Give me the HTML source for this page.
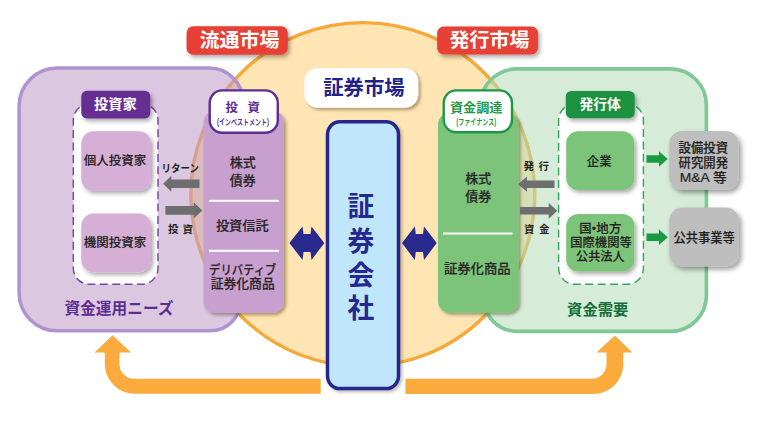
<!DOCTYPE html>
<html lang="ja">
<head>
<meta charset="utf-8">
<title>証券市場</title>
<style>
html,body{margin:0;padding:0;background:#fff;}
body{width:765px;height:422px;overflow:hidden;font-family:"Liberation Sans","Noto Sans CJK JP",sans-serif;}
svg{display:block;}
svg text{font-family:"Liberation Sans","Noto Sans CJK JP",sans-serif;}
.b{font-weight:700;}
.m{font-weight:500;}
.c{font-weight:500;stroke:#2a2627;stroke-width:0.2px;}
.d{font-weight:500;stroke:#231f20;stroke-width:0.15px;}
</style>
</head>
<body>
<svg width="765" height="422" viewBox="0 0 765 422">
<defs>
<filter id="sh" x="-20%" y="-20%" width="150%" height="150%">
<feDropShadow dx="2" dy="2.5" stdDeviation="2" flood-color="#000" flood-opacity="0.35"/>
</filter>
<filter id="sh2" x="-20%" y="-20%" width="150%" height="150%">
<feDropShadow dx="2.2" dy="2.2" stdDeviation="1.8" flood-color="#3a2a00" flood-opacity="0.4"/>
</filter>
<filter id="sh3" x="-20%" y="-10%" width="150%" height="125%">
<feDropShadow dx="2" dy="2" stdDeviation="1.8" flood-color="#3a2a00" flood-opacity="0.3"/>
</filter>
<filter id="sh4" x="-20%" y="-20%" width="150%" height="150%">
<feDropShadow dx="2.5" dy="3" stdDeviation="2.6" flood-color="#000" flood-opacity="0.38"/>
</filter>
</defs>
<rect width="765" height="422" fill="#ffffff"/>

<!-- central circle -->
<circle cx="362.8" cy="194.6" r="172" fill="#fee5b3" stroke="#f6a93a" stroke-width="3.4"/>

<!-- outer boxes -->
<path d="M57.1,68.1 H209.2 A34,34 0 0 1 243.2,102.1 L240.6,300.8 A30,30 0 0 1 210.6,330.8 H57.1 A38,38 0 0 1 19.1,292.8 V106.1 A38,38 0 0 1 57.1,68.1 Z" fill="rgb(191,153,201)" fill-opacity="0.55" stroke="#b092ce" stroke-width="3.5"/>
<path d="M517,68.9 H670.4 A36,36 0 0 1 706.4,104.9 V295.4 A36,36 0 0 1 670.4,331.4 H517.4 A34.3,34.3 0 0 1 483.1,297.1 L480,105.9 A37,37 0 0 1 517,68.9 Z" fill="rgb(180,220,184)" fill-opacity="0.55" stroke="#80c898" stroke-width="3.7"/>

<!-- orange arrows -->
<path d="M320.7,378.8 L134,378.8 A14.5,14.5 0 0 1 119.5,364.3 L119.5,352.5 L131,352.5 L112.6,335.2 L94.5,352.5 L104.8,352.5 L104.8,364 A29.7,29.7 0 0 0 134.5,393.7 L320.7,393.7 Z" fill="#fbab3c"/>
<path d="M405.4,378.8 L592,378.8 A14.5,14.5 0 0 0 606.5,364.3 L606.5,352.4 L596.4,352.4 L614.9,335.6 L632.4,352.4 L623.3,352.4 L623.3,364 A30,30 0 0 1 593.3,394 L405.4,394 Z" fill="#fbab3c"/>

<!-- red badges -->
<rect x="186.6" y="26.3" width="101.2" height="28.4" rx="6.5" fill="#e83f35" filter="url(#sh)"/>
<text x="239.5" y="47.4" class="b" font-size="19.7" fill="#fff" text-anchor="middle" textLength="80" lengthAdjust="spacingAndGlyphs">流通市場</text>
<rect x="437.2" y="26.6" width="100.8" height="27.8" rx="6.5" fill="#e83f35" filter="url(#sh)"/>
<text x="489.5" y="47.4" class="b" font-size="19.7" fill="#fff" text-anchor="middle" textLength="80" lengthAdjust="spacingAndGlyphs">発行市場</text>

<!-- 証券市場 pill -->
<rect x="304.3" y="68" width="114" height="39.8" rx="13.5" fill="#fff" filter="url(#sh2)"/>
<text x="364" y="95.2" class="b" font-size="20.3" fill="#1f2287" text-anchor="middle" textLength="81.5" lengthAdjust="spacingAndGlyphs">証券市場</text>

<!-- blue centre rect -->
<rect x="327.5" y="121.8" width="71" height="266.8" rx="12.5" fill="#bfe6fa" stroke="#25288f" stroke-width="3.5" filter="url(#sh3)"/>
<g class="b" font-size="26.8" fill="#25288f" text-anchor="middle">
<text x="360.8" y="215.8">証</text>
<text x="360.8" y="250.5">券</text>
<text x="360.8" y="284.6">会</text>
<text x="360.8" y="318">社</text>
</g>

<!-- double arrows -->
<polygon points="289.4,243 302.5,226.5 303.5,234 310.5,234 311.5,226.5 324.3,243 311.5,260 310.5,252 303.5,252 302.5,260" fill="#2a2a8e"/>
<polygon points="402,243 414.8,226.5 415.8,234 423,234 424,226.5 436.7,243 424,260 423,252 415.8,252 414.8,260" fill="#2a2a8e"/>

<!-- purple column -->
<rect x="203.5" y="111" width="80.5" height="201.9" rx="11.5" fill="#c8a0cf" filter="url(#sh2)"/>
<rect x="209.7" y="90.4" width="68.1" height="42.4" rx="12.5" fill="#fff" stroke="#5c2d91" stroke-width="2.4"/>
<text x="242.7" y="112" class="b" font-size="12.4" fill="#5c2d91" text-anchor="middle" textLength="34.3" lengthAdjust="spacing">投 資</text>
<text x="243" y="124.8" class="b" font-size="8.2" fill="#5c2d91" text-anchor="middle" textLength="52" lengthAdjust="spacingAndGlyphs">(インベストメント)</text>
<g class="c" font-size="12.6" fill="#2a2627" text-anchor="middle">
<text x="242.7" y="166.8" textLength="26" lengthAdjust="spacingAndGlyphs">株式</text>
<text x="242.7" y="185.3" textLength="26" lengthAdjust="spacingAndGlyphs">債券</text>
<text x="242.3" y="230.3" textLength="52.8" lengthAdjust="spacingAndGlyphs">投資信託</text>
<text x="242.7" y="274.2" textLength="67.3" lengthAdjust="spacingAndGlyphs">デリバティブ</text>
<text x="242.7" y="287.8" textLength="64" lengthAdjust="spacingAndGlyphs">証券化商品</text>
</g>
<rect x="209" y="199.8" width="70" height="2" fill="#fff"/>
<rect x="209" y="249.8" width="70" height="2" fill="#fff"/>

<!-- green column -->
<rect x="438" y="113" width="80.5" height="199.7" rx="11.5" fill="#7cc47a" filter="url(#sh2)"/>
<rect x="443.7" y="90.4" width="68.3" height="41.8" rx="12.5" fill="#fff" stroke="#1f9747" stroke-width="2.4"/>
<text x="476.2" y="112.3" class="b" font-size="12.7" fill="#1f9747" text-anchor="middle" textLength="52.6" lengthAdjust="spacingAndGlyphs">資金調達</text>
<text x="476.2" y="124.8" class="b" font-size="8.2" fill="#1f9747" text-anchor="middle" textLength="40" lengthAdjust="spacingAndGlyphs">(ファイナンス)</text>
<g class="c" font-size="12.6" fill="#2a2627" text-anchor="middle">
<text x="478.2" y="182.9" textLength="26" lengthAdjust="spacingAndGlyphs">株式</text>
<text x="478.2" y="201" textLength="26" lengthAdjust="spacingAndGlyphs">債券</text>
<text x="477.3" y="273" textLength="66.8" lengthAdjust="spacingAndGlyphs">証券化商品</text>
</g>
<rect x="443" y="232.5" width="69.5" height="2" fill="#fff"/>

<!-- left dashed box -->
<rect x="73.3" y="104" width="84.7" height="180.3" rx="16" fill="#fff" stroke="#7447a6" stroke-width="1.45" stroke-dasharray="8 4.4"/>
<rect x="81.3" y="90.8" width="69" height="27.6" rx="5.5" fill="#662d91" filter="url(#sh)"/>
<text x="115.3" y="109.2" class="b" font-size="13.8" fill="#fff" text-anchor="middle" textLength="42.5" lengthAdjust="spacingAndGlyphs">投資家</text>
<rect x="81.3" y="131.2" width="69.7" height="59.6" rx="12.5" fill="#d5afd6" filter="url(#sh)"/>
<rect x="81.3" y="213.4" width="69.7" height="58.8" rx="12.5" fill="#d5afd6" filter="url(#sh)"/>
<g class="d" font-size="12.5" fill="#231f20" text-anchor="middle" style="stroke-width:0.12px">
<text x="115" y="165">個人投資家</text>
<text x="115" y="247">機関投資家</text>
</g>

<!-- right dashed box -->
<rect x="558.6" y="104" width="84.8" height="180.3" rx="16" fill="#fff" stroke="#35a35c" stroke-width="1.45" stroke-dasharray="8 4.4"/>
<rect x="565.8" y="91" width="68.9" height="27.2" rx="5.5" fill="#1b9142" filter="url(#sh)"/>
<text x="600.2" y="109.4" class="b" font-size="13.4" fill="#fff" text-anchor="middle" textLength="41.5" lengthAdjust="spacingAndGlyphs">発行体</text>
<rect x="566.2" y="131.3" width="68.2" height="58.8" rx="12" fill="#7cc47a" filter="url(#sh)"/>
<rect x="566.2" y="214" width="68.2" height="57.5" rx="12" fill="#7cc47a" filter="url(#sh)"/>
<g class="d" font-size="12.4" fill="#231f20" text-anchor="middle">
<text x="599.2" y="165.7">企業</text>
<text x="600.3" y="233" textLength="42" lengthAdjust="spacing">国•地方</text>
<text x="601" y="247.3" textLength="61.5" lengthAdjust="spacingAndGlyphs">国際機関等</text>
<text x="600.3" y="260.8" textLength="48.5" lengthAdjust="spacingAndGlyphs">公共法人</text>
</g>

<!-- gray boxes -->
<rect x="669.2" y="131" width="69.6" height="58.8" rx="13" fill="#bebebe" filter="url(#sh4)"/>
<rect x="669.2" y="207.6" width="69.8" height="58.8" rx="13" fill="#bebebe" filter="url(#sh4)"/>
<g class="d" font-size="12.6" fill="#231f20" text-anchor="middle" style="stroke-width:0.18px">
<text x="703.3" y="152.3" textLength="49.5" lengthAdjust="spacingAndGlyphs">設備投資</text>
<text x="703.3" y="167.4" textLength="49.5" lengthAdjust="spacingAndGlyphs">研究開発</text>
<text x="703.3" y="181.7" textLength="47" lengthAdjust="spacingAndGlyphs">M&amp;A 等</text>
<text x="704.2" y="241.9" textLength="61.3" lengthAdjust="spacingAndGlyphs">公共事業等</text>
</g>

<!-- green arrows -->
<polygon points="646.5,155.3 659,155.3 659,151.3 667.7,159 659,166.7 659,162.7 646.5,162.7" fill="#1a9a40"/>
<polygon points="646.5,233.5 659,233.5 659,229.5 667.7,237.2 659,244.9 659,240.9 646.5,240.9" fill="#1a9a40"/>

<!-- gray arrows -->
<g fill="#6d6e70">
<polygon points="163.2,183.7 171.3,175.8 171.3,179.5 199.5,179.5 199.5,188 171.3,188 171.3,191.8"/>
<polygon points="202.3,210.4 193.7,202.3 193.7,206 165.4,206 165.4,214.7 193.7,214.7 193.7,218.5"/>
<polygon points="518,184.2 526.9,176.6 526.9,180.4 554.5,180.4 554.5,187.9 526.9,187.9 526.9,191.8"/>
<polygon points="557.3,210.8 548.7,202.9 548.7,207 520,207 520,214.6 548.7,214.6 548.7,218.7"/>
</g>
<g class="b" font-size="10.5" fill="#231f20" text-anchor="middle">
<text x="180.3" y="171.5" textLength="37.5" lengthAdjust="spacingAndGlyphs">リターン</text>
<text x="180.6" y="232.6" textLength="25" lengthAdjust="spacing">投 資</text>
<text x="536.2" y="169.8" textLength="25.5" lengthAdjust="spacing">発 行</text>
<text x="536.7" y="232.8" textLength="25.5" lengthAdjust="spacing">資 金</text>
</g>

<!-- bottom labels -->
<text x="119" y="314.3" class="b" font-size="15.7" fill="#5c2d91" text-anchor="middle">資金運用ニーズ</text>
<text x="597.7" y="314.8" class="b" font-size="15.3" fill="#0f6f38" text-anchor="middle">資金需要</text>
</svg>
</body>
</html>
